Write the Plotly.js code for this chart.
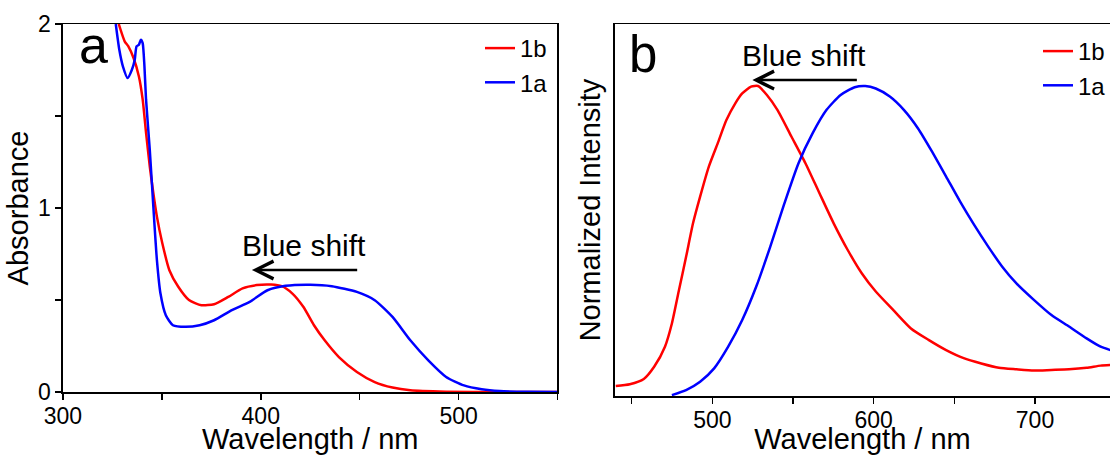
<!DOCTYPE html>
<html>
<head>
<meta charset="utf-8">
<script src="https://cdn.plot.ly/plotly-3.0.1.min.js"></script>
<style>html,body{margin:0;padding:0;background:#fff;}#chart{width:1111px;height:455px;}</style>
</head>
<body>
<div id="chart"></div>
<script>
// Panel a: absorbance spectra
const absWl_1b = [328.2, 331.2, 333, 335.7, 338.4, 340.3, 342, 343.9, 345.7, 347.5, 350.2, 353.8, 358.3, 363.7, 370, 376.4, 383.6, 390.8, 398, 405.2, 410.6, 416, 421.5, 426.9, 432.3, 439.5, 448.6, 457.6, 466.6, 475.6, 493.7, 520, 550];
const abs_1b   = [2.0, 1.906, 1.88, 1.815, 1.715, 1.59, 1.41, 1.225, 1.08, 0.953, 0.81, 0.662, 0.572, 0.50, 0.472, 0.477, 0.517, 0.563, 0.581, 0.584, 0.575, 0.535, 0.463, 0.363, 0.281, 0.19, 0.109, 0.054, 0.024, 0.009, 0.002, 0.0, 0.0];
const absWl_1a = [326.7, 328.5, 330.3, 332.7, 334.8, 336.3, 337.2, 338.4, 339.4, 340.3, 341.2, 342, 343.9, 345.7, 347.5, 349.3, 352, 355.6, 361.9, 369.1, 376.4, 385.4, 394.4, 403.4, 412.5, 425.1, 435.9, 448.6, 457.6, 466.6, 475.6, 484.7, 493.7, 502.7, 511.7, 520.8, 535, 550];
const abs_1a   = [2.0, 1.86, 1.77, 1.706, 1.75, 1.806, 1.878, 1.887, 1.915, 1.896, 1.77, 1.59, 1.316, 1.007, 0.717, 0.535, 0.417, 0.363, 0.354, 0.363, 0.39, 0.445, 0.49, 0.553, 0.577, 0.583, 0.575, 0.544, 0.499, 0.408, 0.281, 0.172, 0.082, 0.036, 0.015, 0.005, 0.001, 0.0];

// Panel b: normalized emission spectra
const emWl_1b = [440.1, 448.8, 457.5, 464, 470.6, 474.9, 479.3, 483.7, 488, 492.4, 497.8, 503.3, 508.7, 514.2, 518.5, 524, 528.3, 533.8, 540.3, 549, 557.7, 566.4, 575.2, 583.9, 592.6, 601.3, 612.2, 623.1, 634, 644.9, 655.8, 666.7, 677.6, 688.5, 699.3, 710.2, 721.1, 732, 740.7, 746.8];
const em_1b   = [0.032, 0.038, 0.055, 0.095, 0.159, 0.234, 0.342, 0.449, 0.557, 0.643, 0.74, 0.815, 0.89, 0.944, 0.976, 0.998, 1.0, 0.971, 0.923, 0.837, 0.751, 0.654, 0.557, 0.471, 0.396, 0.337, 0.277, 0.218, 0.181, 0.148, 0.122, 0.105, 0.091, 0.086, 0.082, 0.084, 0.086, 0.091, 0.098, 0.1];
const emWl_1a = [474.9, 483.7, 492.4, 501.1, 509.8, 518.5, 527.2, 535.9, 544.7, 553.4, 562.1, 570.8, 579.5, 588.2, 594.8, 601.3, 610, 618.7, 627.5, 636.2, 644.9, 653.6, 662.3, 671, 679.7, 688.5, 699.3, 710.2, 721.1, 732, 740.7, 746.8];
const em_1a   = [0.003, 0.019, 0.046, 0.089, 0.159, 0.245, 0.353, 0.482, 0.622, 0.751, 0.847, 0.923, 0.971, 0.996, 1.0, 0.992, 0.966, 0.923, 0.863, 0.788, 0.708, 0.627, 0.552, 0.482, 0.417, 0.363, 0.31, 0.261, 0.224, 0.186, 0.159, 0.148];

const seriesNames = ['1b', '1a'];
const xTitle = 'Wavelength / nm';
const yTitleA = 'Absorbance';
const yTitleB = 'Normalized Intensity';

const W = 1111, H = 455;
const px = v => v / W;
const py = v => 1 - v / H;
const FONT = 'Liberation Sans, Arial, Helvetica, sans-serif';
const RED = '#ff0000', BLUE = '#0000ff';

const traces = [
  {x: absWl_1b, y: abs_1b, name: seriesNames[0], type: 'scatter', mode: 'lines', line: {color: RED, width: 2.5, shape: 'spline', smoothing: 0.6}, xaxis: 'x', yaxis: 'y', legend: 'legend'},
  {x: absWl_1a, y: abs_1a, name: seriesNames[1], type: 'scatter', mode: 'lines', line: {color: BLUE, width: 2.5, shape: 'spline', smoothing: 0.6}, xaxis: 'x', yaxis: 'y', legend: 'legend'},
  {x: emWl_1b, y: em_1b, name: seriesNames[0], type: 'scatter', mode: 'lines', line: {color: RED, width: 2.5, shape: 'spline', smoothing: 0.6}, xaxis: 'x2', yaxis: 'y2', legend: 'legend2'},
  {x: emWl_1a, y: em_1a, name: seriesNames[1], type: 'scatter', mode: 'lines', line: {color: BLUE, width: 2.5, shape: 'spline', smoothing: 0.6}, xaxis: 'x2', yaxis: 'y2', legend: 'legend2'}
];

const axisCommon = {
  showline: true, linecolor: '#000', linewidth: 1.5, showgrid: false, zeroline: false,
  ticks: 'outside', ticklen: 6, tickwidth: 1.5, tickcolor: '#000',
  tickfont: {family: FONT, size: 23, color: '#000'}
};

const layout = {
  width: W, height: H,
  margin: {l: 0, r: 0, t: 0, b: 0},
  paper_bgcolor: '#fff', plot_bgcolor: '#fff',
  font: {family: FONT, color: '#000'},
  xaxis: Object.assign({}, axisCommon, {
    domain: [px(63), px(558)], range: [300, 550], tick0: 300, dtick: 100, mirror: true, anchor: 'y',
    ticklabelstandoff: -3,
    minor: {dtick: 50, ticklen: 6, tickwidth: 1.5, tickcolor: '#000', ticks: 'outside'},
    title: {text: xTitle, font: {family: FONT, size: 29, color: '#000'}, standoff: 2}
  }),
  yaxis: Object.assign({}, axisCommon, {
    domain: [py(392), py(24)], range: [0, 2], tick0: 0, dtick: 1, mirror: true, anchor: 'x',
    minor: {dtick: 0.5, ticklen: 6, tickwidth: 1.5, tickcolor: '#000', ticks: 'outside'},
    title: {text: yTitleA, font: {family: FONT, size: 29, color: '#000'}, standoff: 1}
  }),
  xaxis2: Object.assign({}, axisCommon, {
    domain: [px(615.5), 1], range: [439.6, 746.5], tick0: 500, dtick: 100, mirror: true, anchor: 'y2',
    ticklabelstandoff: -3,
    minor: {dtick: 50, ticklen: 6, tickwidth: 1.5, tickcolor: '#000', ticks: 'outside'},
    title: {text: xTitle, font: {family: FONT, size: 29, color: '#000'}, standoff: 2}
  }),
  yaxis2: Object.assign({}, axisCommon, {
    domain: [py(396), py(24)], range: [0, 1.2], anchor: 'x2', ticks: '', showticklabels: false, mirror: false,
    title: {text: yTitleB, font: {family: FONT, size: 29, color: '#000'}, standoff: 4}
  }),
  legend: {
    x: px(480), y: py(26), xanchor: 'left', yanchor: 'top', bgcolor: 'rgba(0,0,0,0)',
    font: {family: FONT, size: 24, color: '#000'}, tracegroupgap: 0
  },
  legend2: {
    x: px(1039), y: py(29), xanchor: 'left', yanchor: 'top', bgcolor: 'rgba(0,0,0,0)',
    font: {family: FONT, size: 24, color: '#000'}, tracegroupgap: 0
  },
  showlegend: true,
  annotations: [
    {text: 'a', xref: 'paper', yref: 'paper', x: px(77), y: py(45), xanchor: 'left', yanchor: 'middle', showarrow: false, font: {family: FONT, size: 52, color: '#000'}},
    {text: 'b', xref: 'paper', yref: 'paper', x: px(628), y: py(54), xanchor: 'left', yanchor: 'middle', showarrow: false, font: {family: FONT, size: 51, color: '#000'}},
    {text: 'Blue shift', xref: 'paper', yref: 'paper', x: px(304.5), y: py(246), xanchor: 'center', yanchor: 'middle', showarrow: false, font: {family: FONT, size: 30, color: '#000'}},
    {text: 'Blue shift', xref: 'paper', yref: 'paper', x: px(805), y: py(55), xanchor: 'center', yanchor: 'middle', showarrow: false, font: {family: FONT, size: 30, color: '#000'}},
    {text: '', xref: 'x', yref: 'y', x: 395.5, y: 0.663, axref: 'x', ayref: 'y', ax: 449.5, ay: 0.663, showarrow: true, arrowhead: 5, arrowsize: 1.4, arrowwidth: 2.5, arrowcolor: '#000', standoff: 0, startstandoff: 0},
    {text: '', xref: 'x2', yref: 'y2', x: 524.8, y: 1.019, axref: 'x2', ayref: 'y2', ax: 590.5, ay: 1.019, showarrow: true, arrowhead: 5, arrowsize: 1.4, arrowwidth: 2.5, arrowcolor: '#000', standoff: 0, startstandoff: 0}
  ]
};

Plotly.newPlot('chart', traces, layout, {staticPlot: true, displayModeBar: false});
</script>
</body>
</html>
